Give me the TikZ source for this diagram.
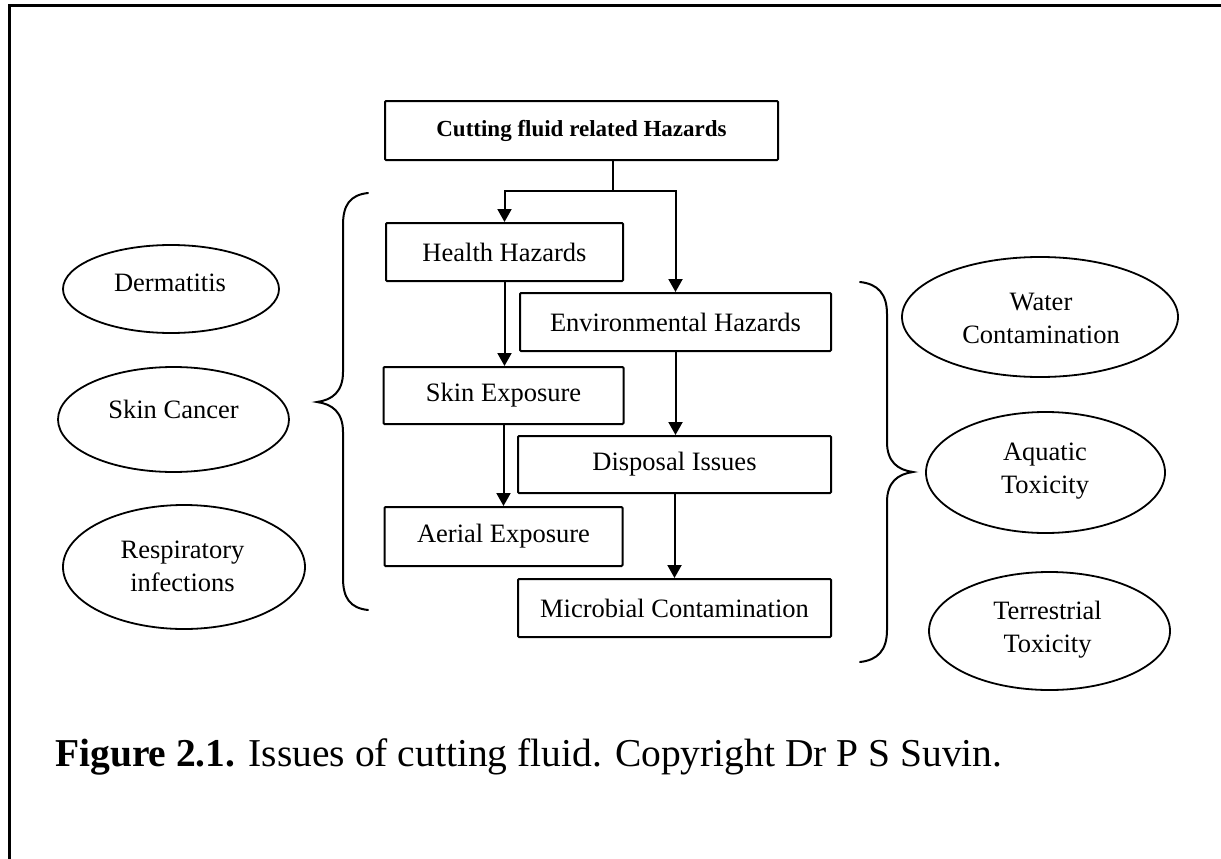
\documentclass[tikz,border=0pt]{standalone}
\usepackage{fontspec}
\setmainfont{Liberation Serif}
\usetikzlibrary{arrows.meta,shapes.geometric}

\begin{document}
\begin{tikzpicture}[x=1pt,y=-1pt,
  box/.style={draw,line width=2pt,rounded corners=1pt,inner sep=0pt,
    font=\fontsize{26.5}{32}\selectfont},
  oval/.style={draw,ellipse,line width=1.8pt,inner sep=0pt},
  otext/.style={align=center,inner sep=0pt,font=\fontsize{26.5}{33}\selectfont},
  flow/.style={line width=2pt,-{Triangle[length=13pt,width=14pt]}},
  link/.style={line width=2pt},
  brace/.style={line width=2pt,line cap=round}]

\useasboundingbox (0,0) rectangle (1221,859);

% frame (top and left edges only)
\draw[line width=3pt] (9,859) -- (9,6) -- (1221,6);

% flow boxes
\node[box,minimum width=393pt,minimum height=59pt,font=\bfseries\fontsize{23}{28}\selectfont]
  (title) at (581.5,130.5) {Cutting fluid related Hazards};
\node[box,minimum width=237pt,minimum height=58pt] (health) at (504.5,252) {Health Hazards};
\node[box,minimum width=311pt,minimum height=58pt] (env) at (675.5,322) {Environmental Hazards};
\node[box,minimum width=240pt,minimum height=57pt] (skin) at (503.5,395.5) {Skin Exposure};
\node[box,minimum width=313pt,minimum height=57pt] (disp) at (674.5,464.5) {Disposal Issues};
\node[box,minimum width=238pt,minimum height=59pt] (aerial) at (503.5,536.5) {Aerial Exposure};
\node[box,minimum width=313pt,minimum height=58pt] (micro) at (674.5,608) {Microbial Contamination};

% connectors
\coordinate (split) at (613,191);
\draw[link] (title.south -| split) -- (split);
\draw[flow] (split) -| (health.north);
\draw[flow] (split) -| (env.north);
\draw[flow] (health.south) -- (health.south |- skin.north);
\draw[flow] (skin.south) -- (skin.south |- aerial.north);
\draw[flow] (env.south) -- (env.south |- disp.north);
\draw[flow] (disp.south) -- (disp.south |- micro.north);

% braces
\draw[brace] (368,193) .. controls (350,195) and (343,205) .. (343,225)
  -- (343,372) .. controls (343,392) and (332,400) .. (317,402)
  .. controls (332,404) and (343,412) .. (343,432)
  -- (343,578) .. controls (343,598) and (350,608) .. (368,610);
\draw[brace] (860,282) .. controls (878,284) and (887,294) .. (887,314)
  -- (887,442) .. controls (887,462) and (898,470) .. (913,472)
  .. controls (898,474) and (887,482) .. (887,502)
  -- (887,630) .. controls (887,650) and (878,660) .. (860,662);

% health effects
\node[oval,minimum width=216pt,minimum height=88pt] (derm) at (171,289) {};
\node[otext] (dermT) at (170,283) {Dermatitis};
\node[oval,minimum width=231pt,minimum height=105pt] (cancer) at (173.5,419.5) {};
\node[otext] (cancerT) at (173.5,409) {Skin Cancer};
\node[oval,minimum width=242pt,minimum height=124pt] (resp) at (184,567) {};
\node[otext] (respT) at (182.5,566) {Respiratory\\infections};

% environmental effects
\node[oval,minimum width=276pt,minimum height=120pt] (water) at (1040,317) {};
\node[otext] (waterT) at (1041,318) {Water\\Contamination};
\node[oval,minimum width=239pt,minimum height=121pt] (aqua) at (1045.5,472.5) {};
\node[otext] (aquaT) at (1045,471) {Aquatic\\Toxicity};
\node[oval,minimum width=241pt,minimum height=118pt] (terr) at (1049.5,631) {};
\node[otext] (terrT) at (1047.5,630) {Terrestrial\\Toxicity};

% caption
\node[anchor=base west,inner sep=0pt,font=\fontsize{39.5}{46}\selectfont] (cap) at (55,766)
  {\textbf{Figure 2.1.} Issues of cutting fluid. Copyright Dr P S Suvin.};
\end{tikzpicture}
\end{document}
